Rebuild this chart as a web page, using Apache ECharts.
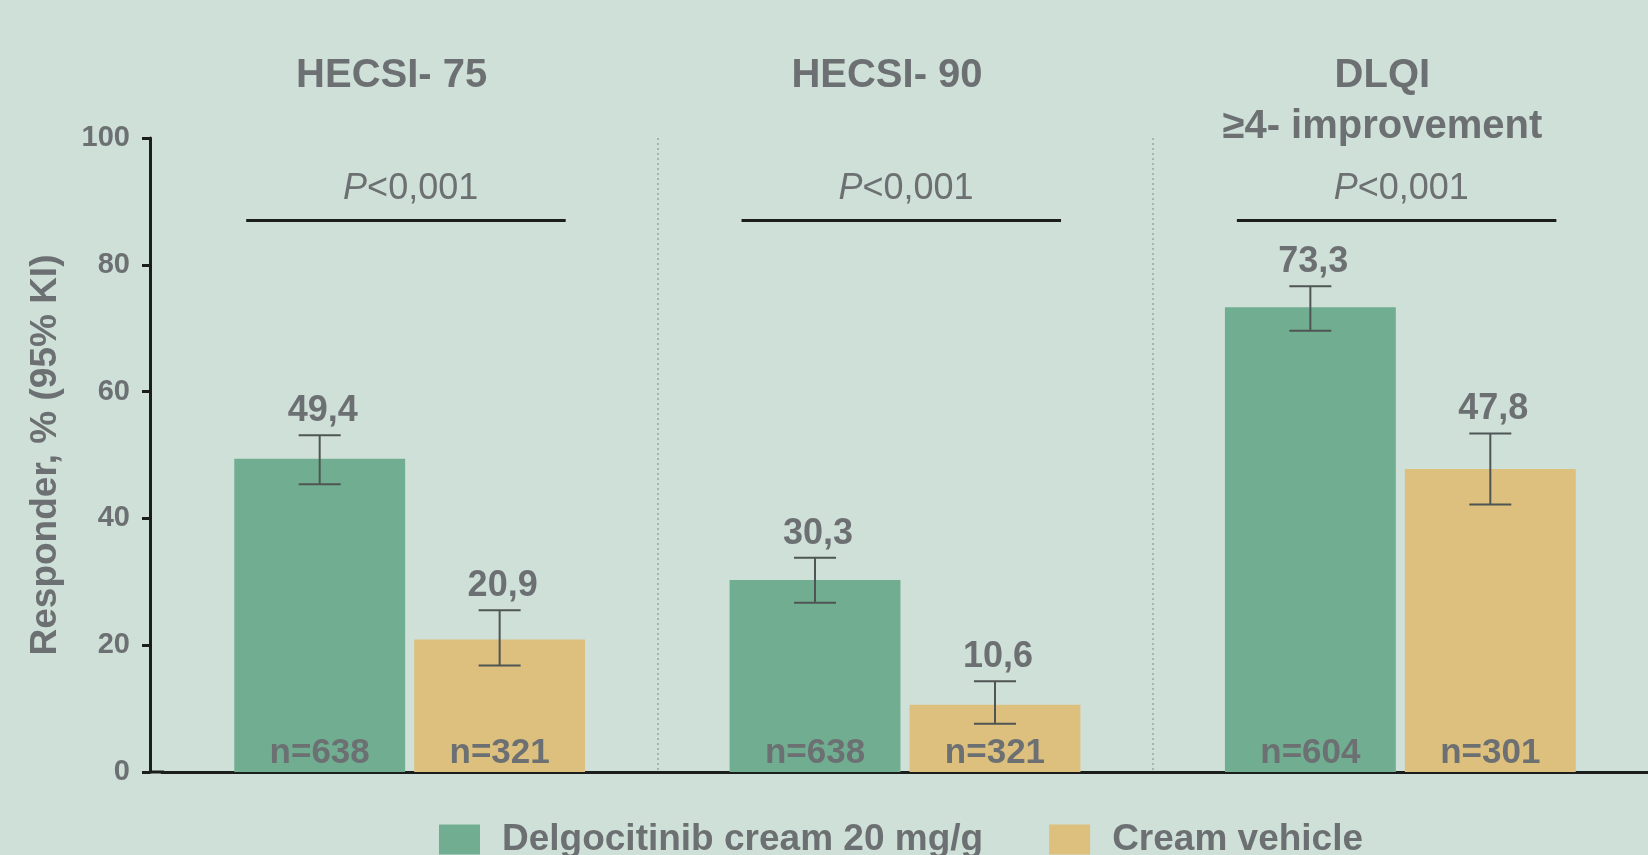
<!DOCTYPE html>
<html>
<head>
<meta charset="utf-8">
<script src="https://cdn.jsdelivr.net/npm/echarts@6/dist/echarts.min.js"></script>
<style>
html,body{margin:0;padding:0;background:#cfe0d8;}
#c{width:1648px;height:855px;}
</style>
</head>
<body>
<div id="c"></div>
<script>
// ---- data ----
const categories = ['HECSI- 75', 'HECSI- 90', 'DLQI\n≥4- improvement'];
const seriesNames = ['Delgocitinib cream 20 mg/g', 'Cream vehicle'];
const delgoValues = [49.4, 30.3, 73.3];
const delgoLow = [45.4, 26.7, 69.6];
const delgoHigh = [53.1, 33.8, 76.6];
const delgoN = [638, 638, 604];
const vehicleValues = [20.9, 10.6, 47.8];
const vehicleLow = [16.8, 7.6, 42.2];
const vehicleHigh = [25.5, 14.3, 53.4];
const vehicleN = [321, 321, 301];
const sigLevel = [87, 87, 87];
const sigText = ['P<0,001', 'P<0,001', 'P<0,001'];
const yTicks = [0, 20, 40, 60, 80, 100];

// ---- style ----
const FONT = '"Liberation Sans", Arial, Helvetica, sans-serif';
const TXT = '#6c7072';
const GREEN = '#71ae91';
const YELLOW = '#ddc07d';
const ERR = '#4f5455';
const BAR_W = 0.345, BAR_GAP = 0.053;
const GRID_LEFT = 162, Y_OFF = 12;

const chart = echarts.init(document.getElementById('c'), null, {renderer: 'canvas'});

function fmt(v){ return v.toFixed(1).replace('.', ','); }

function errRender(sign){
  return function(params, api){
    const xi = api.value(0), lo = api.value(1), hi = api.value(2), v = api.value(3);
    const bw = api.size([1, 0])[0];
    const off = sign * bw * BAR_W * (1 + BAR_GAP) / 2;
    const top = api.coord([xi, hi]);
    const bot = api.coord([xi, lo]);
    const x = top[0] + off;
    const cap = 21;
    const st = {stroke: ERR, lineWidth: 2};
    return {type: 'group', children: [
      {type: 'line', shape: {x1: x, y1: top[1], x2: x, y2: bot[1]}, style: st},
      {type: 'line', shape: {x1: x - cap, y1: top[1], x2: x + cap, y2: top[1]}, style: st},
      {type: 'line', shape: {x1: x - cap, y1: bot[1], x2: x + cap, y2: bot[1]}, style: st},
      {type: 'text', x: x + 3, y: top[1] - 6, style: {
        text: fmt(v), fontFamily: FONT, fontSize: 36, fontWeight: 'bold', fill: TXT,
        align: 'center', verticalAlign: 'bottom'}}
    ]};
  };
}

function sigRender(params, api){
  const xi = api.value(0), lvl = api.value(1);
  const bw = api.size([1, 0])[0];
  const p = api.coord([xi, lvl]);
  const txt = sigText[params.dataIndex].replace(/^P/, '{i|P}');
  return {type: 'group', children: [
    {type: 'line', shape: {x1: p[0] - 0.33 * bw, y1: p[1], x2: p[0] + 0.315 * bw, y2: p[1]},
      style: {stroke: '#1c1e1e', lineWidth: 3}},
    {type: 'text', x: p[0] + 1, y: p[1] - 13, style: {
      text: txt, fontFamily: FONT, fontSize: 36, fill: TXT,
      align: 'center', verticalAlign: 'bottom',
      rich: {i: {fontStyle: 'italic', fontFamily: FONT, fontSize: 36, fill: TXT}}}}
  ]};
}

const nLabel = (arr) => ({
  show: true, position: 'insideBottom', distance: 1,
  formatter: (p) => 'n=' + arr[p.dataIndex],
  fontFamily: FONT, fontSize: 35, fontWeight: 'bold', color: TXT
});

const option = {
  backgroundColor: '#cfe0d8',
  animation: false,
  textStyle: {fontFamily: FONT},
  grid: {left: GRID_LEFT, right: 0, top: 138, bottom: 83, containLabel: false},
  legend: {
    data: seriesNames, left: 434, top: 816, itemWidth: 41, itemHeight: 30, itemGap: 66,
    icon: 'rect',
    textStyle: {fontFamily: FONT, fontSize: 37, fontWeight: 'bold', color: TXT, padding: [0, 0, 0, 17]}
  },
  xAxis: [{
    type: 'category', data: categories, position: 'bottom',
    axisLine: {show: true, lineStyle: {color: '#1c1e1e', width: 3}},
    axisTick: {show: false}, axisLabel: {show: false},
    splitLine: {show: true, showMinLine: false, showMaxLine: false,
      lineStyle: {color: '#9aa6a1', width: 1.5, type: [2, 3]}}
  }, {
    type: 'category', data: categories, position: 'top',
    axisLine: {show: false}, axisTick: {show: false}, splitLine: {show: false},
    axisLabel: {show: true, interval: 0, margin: 88, verticalAlign: 'top',
      fontFamily: FONT, fontSize: 40, fontWeight: 'bold', color: TXT, lineHeight: 51,
      padding: [0, 36, 0, 0]}
  }],
  yAxis: {
    type: 'value', min: 0, max: 100, interval: 20, offset: Y_OFF,
    name: 'Responder, % (95% KI)', nameLocation: 'middle', nameGap: 86,
    nameTextStyle: {fontFamily: FONT, fontSize: 37, fontWeight: 'bold', color: TXT},
    axisLine: {show: true, lineStyle: {color: '#1c1e1e', width: 3}},
    axisTick: {show: true, length: 8, lineStyle: {color: '#1c1e1e', width: 3}},
    axisLabel: {margin: 20, fontFamily: FONT, fontSize: 29, fontWeight: 'bold', color: TXT,
      formatter: (v) => yTicks.indexOf(v) >= 0 ? String(v) : ''},
    splitLine: {show: false}
  },
  series: [
    {name: seriesNames[0], type: 'bar', data: delgoValues, barWidth: (BAR_W * 100) + '%',
      barGap: (BAR_GAP * 100) + '%', itemStyle: {color: GREEN}, label: nLabel(delgoN), z: 2},
    {name: seriesNames[1], type: 'bar', data: vehicleValues, barWidth: (BAR_W * 100) + '%',
      itemStyle: {color: YELLOW}, label: nLabel(vehicleN), z: 2},
    {type: 'custom', renderItem: errRender(-1), z: 5,
      data: delgoValues.map((v, i) => [i, delgoLow[i], delgoHigh[i], v]),
      encode: {x: 0, y: [1, 2]}},
    {type: 'custom', renderItem: errRender(1), z: 5,
      data: vehicleValues.map((v, i) => [i, vehicleLow[i], vehicleHigh[i], v]),
      encode: {x: 0, y: [1, 2]}},
    {type: 'custom', renderItem: sigRender, z: 5,
      data: sigLevel.map((v, i) => [i, v]), encode: {x: 0, y: 1}}
  ]
};
chart.setOption(option);
const y0 = chart.convertToPixel({yAxisIndex: 0}, 0);
chart.setOption({graphic: [{type: 'line', shape: {x1: GRID_LEFT - Y_OFF, y1: y0, x2: GRID_LEFT + 2, y2: y0},
  style: {stroke: '#1c1e1e', lineWidth: 3}, z: 10}]});
</script>
</body>
</html>
